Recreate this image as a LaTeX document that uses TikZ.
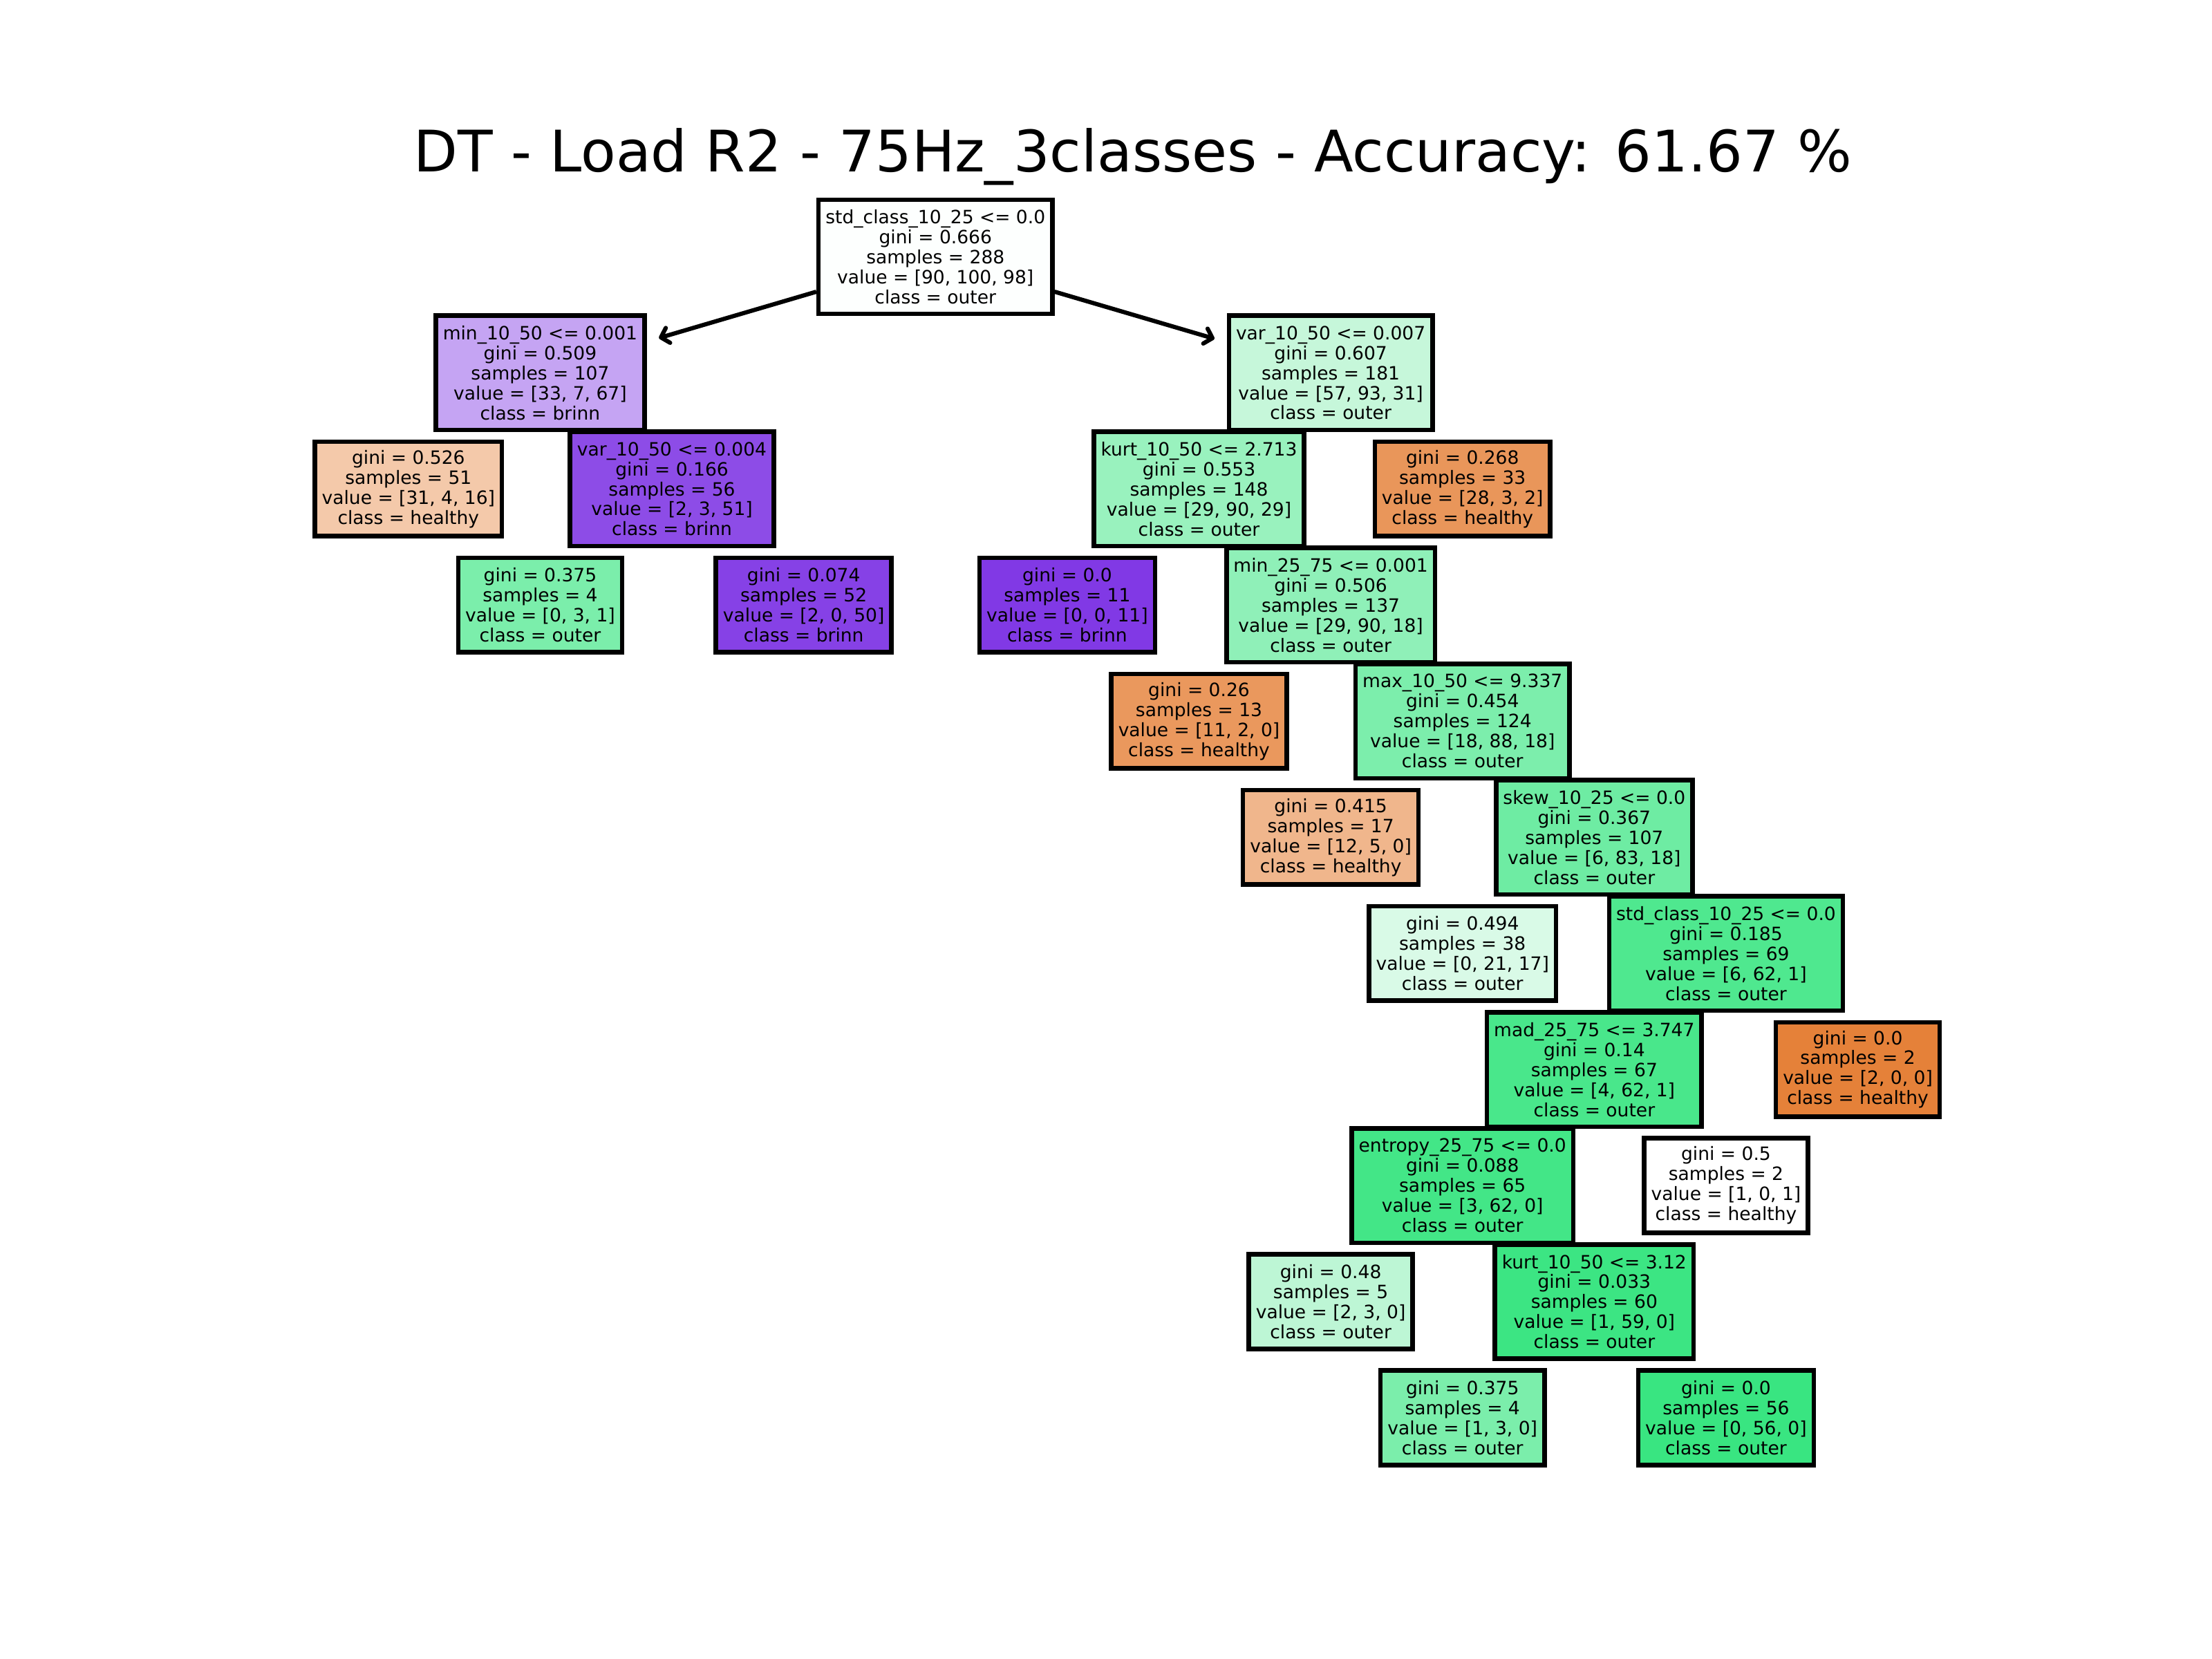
\documentclass[tikz,border=0pt]{standalone}
\usepackage{fontspec}
\setmainfont{DejaVu Sans}
\usetikzlibrary{arrows.meta}
\begin{document}
\begin{tikzpicture}[x=0.5pt,y=-0.5pt,
  tnode/.style={draw=black, line width=1.6pt, inner xsep=2.5pt, inner ysep=0pt, align=center, font=\fontsize{6.5}{7.1}\selectfont},
  five/.style={tnode, minimum height=40.5pt},
  four/.style={tnode, minimum height=33.5pt},
  treeedge/.style={line width=1.5pt, line join=round, -{Straight Barb[length=2.6pt,width=5.5pt,round]}, shorten >=4.5pt}]
\useasboundingbox (0,0) rectangle (1568,1176);
\node[font=\fontsize{20.3}{24}\selectfont, anchor=base] (title) at (803,122) {DT - Load R2 - 75Hz\_3classes - Accuracy: 61.67 \%};
% depth 0
\node[five, fill={rgb,255:red,253;green,255;blue,254}] (n0) at (663.1,182) {std\_class\_10\_25 <= 0.0\\gini = 0.666\\samples = 288\\value = [90, 100, 98]\\class = outer};
% left subtree
\node[five, fill={rgb,255:red,197;green,164;blue,243}] (n1) at (382.9,264.3) {min\_10\_50 <= 0.001\\gini = 0.509\\samples = 107\\value = [33, 7, 67]\\class = brinn};
\node[four, fill={rgb,255:red,244;green,201;blue,170}] (n2) at (289.5,346.6) {gini = 0.526\\samples = 51\\value = [31, 4, 16]\\class = healthy};
\node[five, fill={rgb,255:red,141;green,76;blue,231}] (n3) at (476.3,346.6) {var\_10\_50 <= 0.004\\gini = 0.166\\samples = 56\\value = [2, 3, 51]\\class = brinn};
\node[four, fill={rgb,255:red,123;green,238;blue,171}] (n4) at (382.9,428.9) {gini = 0.375\\samples = 4\\value = [0, 3, 1]\\class = outer};
\node[four, fill={rgb,255:red,134;green,65;blue,230}] (n5) at (569.7,428.9) {gini = 0.074\\samples = 52\\value = [2, 0, 50]\\class = brinn};
% right subtree
\node[five, fill={rgb,255:red,198;green,247;blue,218}] (n6) at (943.3,264.3) {var\_10\_50 <= 0.007\\gini = 0.607\\samples = 181\\value = [57, 93, 31]\\class = outer};
\node[five, fill={rgb,255:red,153;green,242;blue,190}] (n7) at (849.9,346.6) {kurt\_10\_50 <= 2.713\\gini = 0.553\\samples = 148\\value = [29, 90, 29]\\class = outer};
\node[four, fill={rgb,255:red,129;green,57;blue,229}] (n8) at (756.5,428.9) {gini = 0.0\\samples = 11\\value = [0, 0, 11]\\class = brinn};
\node[five, fill={rgb,255:red,143;green,240;blue,184}] (n9) at (943.3,428.9) {min\_25\_75 <= 0.001\\gini = 0.506\\samples = 137\\value = [29, 90, 18]\\class = outer};
\node[four, fill={rgb,255:red,234;green,152;blue,93}] (n10) at (849.9,511.2) {gini = 0.26\\samples = 13\\value = [11, 2, 0]\\class = healthy};
\node[five, fill={rgb,255:red,124;green,238;blue,172}] (n11) at (1036.7,511.2) {max\_10\_50 <= 9.337\\gini = 0.454\\samples = 124\\value = [18, 88, 18]\\class = outer};
\node[four, fill={rgb,255:red,240;green,182;blue,140}] (n12) at (943.3,593.5) {gini = 0.415\\samples = 17\\value = [12, 5, 0]\\class = healthy};
\node[five, fill={rgb,255:red,110;green,236;blue,163}] (n13) at (1130.1,593.5) {skew\_10\_25 <= 0.0\\gini = 0.367\\samples = 107\\value = [6, 83, 18]\\class = outer};
\node[four, fill={rgb,255:red,217;green,250;blue,231}] (n14) at (1036.7,675.8) {gini = 0.494\\samples = 38\\value = [0, 21, 17]\\class = outer};
\node[five, fill={rgb,255:red,79;green,232;blue,143}] (n15) at (1223.5,675.8) {std\_class\_10\_25 <= 0.0\\gini = 0.185\\samples = 69\\value = [6, 62, 1]\\class = outer};
\node[five, fill={rgb,255:red,73;green,231;blue,139}] (n16) at (1130.1,758.1) {mad\_25\_75 <= 3.747\\gini = 0.14\\samples = 67\\value = [4, 62, 1]\\class = outer};
\node[five, fill={rgb,255:red,67;green,230;blue,135}] (n17) at (1036.7,840.4) {entropy\_25\_75 <= 0.0\\gini = 0.088\\samples = 65\\value = [3, 62, 0]\\class = outer};
\node[four, fill={rgb,255:red,189;green,246;blue,213}] (n18) at (943.3,922.7) {gini = 0.48\\samples = 5\\value = [2, 3, 0]\\class = outer};
\node[five, fill={rgb,255:red,60;green,229;blue,131}] (n19) at (1130.1,922.7) {kurt\_10\_50 <= 3.12\\gini = 0.033\\samples = 60\\value = [1, 59, 0]\\class = outer};
\node[four, fill={rgb,255:red,123;green,238;blue,171}] (n20) at (1036.7,1005) {gini = 0.375\\samples = 4\\value = [1, 3, 0]\\class = outer};
\node[four, fill={rgb,255:red,57;green,229;blue,129}] (n21) at (1223.5,1005) {gini = 0.0\\samples = 56\\value = [0, 56, 0]\\class = outer};
\node[four, fill=white] (n22) at (1223.5,840.4) {gini = 0.5\\samples = 2\\value = [1, 0, 1]\\class = healthy};
\node[four, fill={rgb,255:red,229;green,129;blue,57}] (n23) at (1316.9,758.1) {gini = 0.0\\samples = 2\\value = [2, 0, 0]\\class = healthy};
\node[four, fill={rgb,255:red,233;green,150;blue,90}] (n24) at (1036.7,346.6) {gini = 0.268\\samples = 33\\value = [28, 3, 2]\\class = healthy};
% visible connectors
\draw[treeedge] (n0) -- (n1);
\draw[treeedge] (n0) -- (n6);
\end{tikzpicture}
\end{document}
